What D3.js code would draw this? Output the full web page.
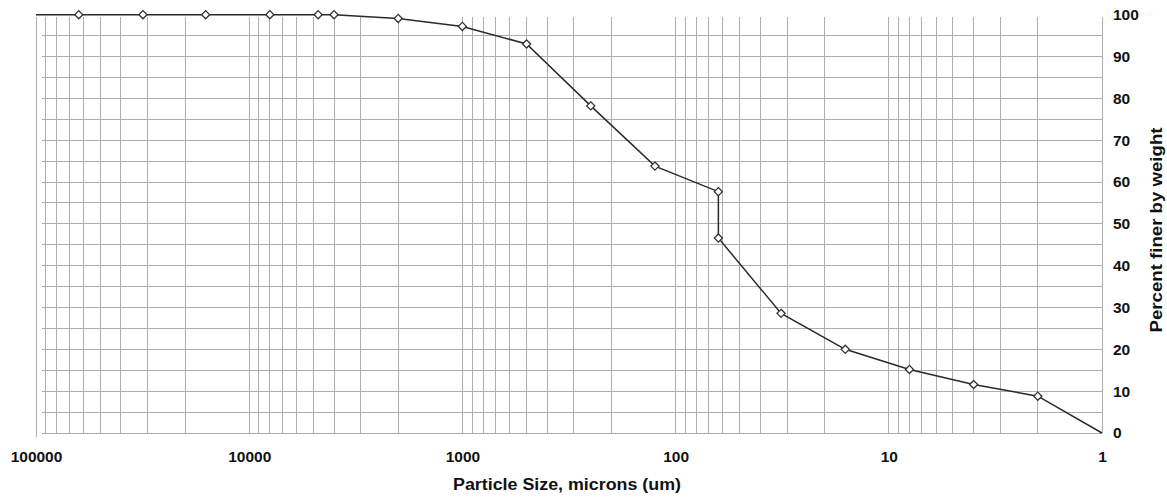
<!DOCTYPE html>
<html>
<head>
<meta charset="utf-8">
<script src="https://cdn.jsdelivr.net/npm/d3@7"></script>
<style>
  html, body { margin: 0; padding: 0; background: #fff; }
  svg { display: block; }
  text { font-family: "Liberation Sans", Arial, sans-serif; font-weight: bold; fill: #111; }
</style>
</head>
<body>
<script>
// Grain-size distribution: sieve / hydrometer results
const sizes   = [63000, 31500, 16000, 8000, 4750, 4000, 2000, 1000, 500, 250, 125, 63, 63, 32, 16, 8, 4, 2];
const finer   = [100, 100, 100, 100, 100, 100, 99.1, 97.2, 93.0, 78.2, 63.8, 57.7, 46.6, 28.6, 20.0, 15.2, 11.6, 8.8];
// Curve runs from the coarse edge of the scale down to zero at the fine edge
const curveStart = [100000, 100];
const curveEnd   = [1, 0];

const xTickValues = [100000, 10000, 1000, 100, 10, 1];
const yTickValues = [0, 10, 20, 30, 40, 50, 60, 70, 80, 90, 100];

const W = 1167, H = 498;
const plotLeft = 36, plotRight = 1102, plotTop = 14.7, plotBottom = 433;

const svg = d3.select("body").append("svg").attr("width", W).attr("height", H);

const x = d3.scaleLog().domain([100000, 1]).range([plotLeft, plotRight]);
const y = d3.scaleLinear().domain([0, 100]).range([plotBottom, plotTop]);

// Minor log grid (verticals)
const minor = [];
for (let d = 1; d < 100000; d *= 10) {
  for (let k = 1; k < 10; k++) minor.push(d * k);
}
minor.push(100000);

const grid = svg.append("g").attr("stroke", "#adadad").attr("stroke-width", 1).attr("shape-rendering", "crispEdges");
grid.selectAll("line.v").data(minor).join("line")
  .attr("class", "v")
  .attr("x1", d => x(d)).attr("x2", d => x(d))
  .attr("y1", y(100) + 2).attr("y2", d => d === 100000 ? plotBottom + 4 : plotBottom);

// Horizontal grid every 5 %
const hLines = d3.range(0, 100, 5);
grid.selectAll("line.h").data(hLines).join("line")
  .attr("class", "h")
  .attr("x1", plotLeft + 6).attr("x2", plotRight)
  .attr("y1", d => y(d)).attr("y2", d => y(d));

// Y axis on the right (labels only)
const yAxis = d3.axisRight(y).tickValues(yTickValues).tickSize(0).tickPadding(11);
const gy = svg.append("g").attr("transform", `translate(${plotRight},0)`).call(yAxis);
gy.select(".domain").remove();
gy.selectAll("text").attr("font-size", "15.5px").attr("font-family", "Liberation Sans, Arial, sans-serif")
  .attr("font-weight", "bold").attr("fill", "#111");

// X axis (labels only)
const xAxis = d3.axisBottom(x).tickValues(xTickValues).tickFormat(d3.format("d")).tickSize(0).tickPadding(18);
const gx = svg.append("g").attr("transform", `translate(0,${plotBottom})`).call(xAxis);
gx.select(".domain").remove();
gx.selectAll("text").attr("font-size", "15.5px").attr("font-family", "Liberation Sans, Arial, sans-serif")
  .attr("font-weight", "bold").attr("fill", "#111");

// Axis titles
svg.append("text")
  .attr("x", 567).attr("y", 490)
  .attr("text-anchor", "middle").attr("font-size", "16px")
  .attr("textLength", 228).attr("lengthAdjust", "spacingAndGlyphs")
  .text("Particle Size, microns (um)");

svg.append("text")
  .attr("transform", "translate(1162,230) rotate(-90)")
  .attr("text-anchor", "middle").attr("font-size", "16px")
  .attr("textLength", 205).attr("lengthAdjust", "spacingAndGlyphs")
  .text("Percent finer by weight");

// Distribution curve
const pts = sizes.map((s, i) => [s, finer[i]]);
const linePts = [curveStart, ...pts, curveEnd];
const line = d3.line().x(d => x(d[0])).y(d => y(d[1]));
svg.append("path")
  .datum(linePts)
  .attr("d", line)
  .attr("fill", "none")
  .attr("stroke", "#2a2a2a")
  .attr("stroke-width", 1.5);

// Diamond markers
const diamond = d3.symbol().type(d3.symbolDiamond2).size(42);
svg.append("g").selectAll("path").data(pts).join("path")
  .attr("d", diamond)
  .attr("transform", d => `translate(${x(d[0])},${y(d[1])})`)
  .attr("fill", "#fff")
  .attr("stroke", "#333")
  .attr("stroke-width", 1.3);
</script>
</body>
</html>
